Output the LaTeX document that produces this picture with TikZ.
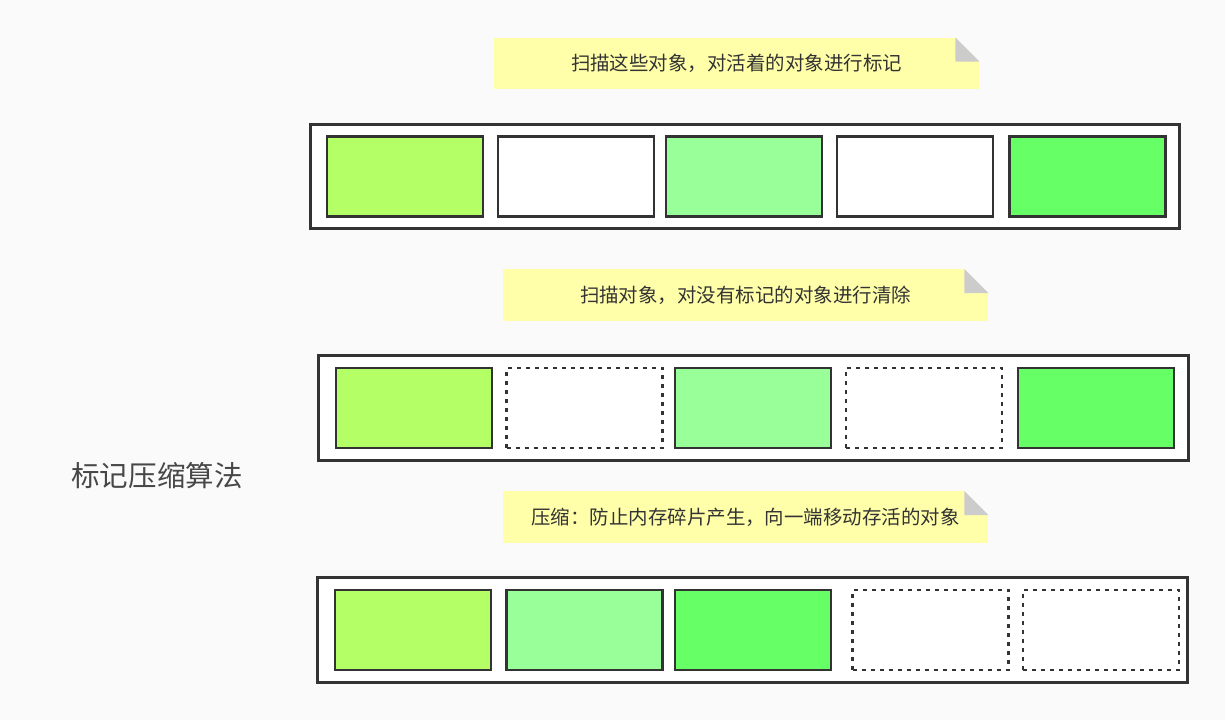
\documentclass[tikz,border=0pt]{standalone}
\usepackage{fontspec}
\newfontfamily\cjk{Noto Sans CJK SC}
\usetikzlibrary{positioning}
\definecolor{bgc}{HTML}{FAFAFA}
\definecolor{linec}{HTML}{333333}
\definecolor{notec}{HTML}{FFFFAA}
\definecolor{foldc}{HTML}{CCCCCC}
\definecolor{limec}{HTML}{B5FF66}
\definecolor{paleg}{HTML}{99FF99}
\definecolor{brightg}{HTML}{66FF66}
\tikzset{
    heap/.style = {rectangle, draw=linec, line width=2.2pt, fill=white, minimum width=652pt, minimum height=78.5pt, inner sep=0},
    cell/.style = {rectangle, draw=linec, line width=2.2pt, minimum width=117pt, minimum height=60pt, inner sep=0},
    cellc/.style = {cell, fill=limec},
    cellp/.style = {cell, fill=paleg},
    cellg/.style = {cell, fill=brightg},
    cellw/.style = {cell, fill=white},
    celld/.style = {cell, fill=white, line width=2pt, dash pattern=on 3pt off 3.75pt},
    note/.style = {rectangle, fill=notec, minimum width=364pt, minimum height=38.5pt, inner sep=0, font=\cjk\fontsize{14.6}{17}\selectfont, text=linec},
    title/.style = {font=\cjk\fontsize{21.4}{25}\selectfont, text=linec!90!white}
}

\newcommand{\fold}[1]{%
  \fill[bgc] (#1.north east) -- ++(-24,0) -- ++(24,24) -- cycle;
  \fill[foldc] (#1.north east) ++(-24,0) -- ++(0,24) -- ++(24,0) -- cycle;
}

\begin{document}
\begin{tikzpicture}[x=0.75pt,y=-0.75pt]
\fill[bgc] (0,0) rectangle (1225,720);
\useasboundingbox (0,0) rectangle (1225,720);

\node[title] at (157,476) (t) {标记压缩算法};

% mark
\node[note] at (736.5,63.5) (n1) {扫描这些对象，对活着的对象进行标记};
\fold{n1}
\node[heap] at (745,176.5) (h1) {};
\node[cellc] at ( 405.0,176.5) (a1) {};
\node[cellw] at ( 576.0,176.5) (a2) {};
\node[cellp] at ( 744.0,176.5) (a3) {};
\node[cellw] at ( 915.0,176.5) (a4) {};
\node[cellg] at (1087.5,176.5) (a5) {};

% sweep
\node[note] at (745.5,295) (n2) {扫描对象，对没有标记的对象进行清除};
\fold{n2}
\node[heap] at (753.5,408) (h2) {};
\node[cellc] at ( 414.0,408) (b1) {};
\node[celld] at ( 584.5,408) (b2) {};
\node[cellp] at ( 753.0,408) (b3) {};
\node[celld] at ( 924.0,408) (b4) {};
\node[cellg] at (1096.0,408) (b5) {};

% compact
\node[note] at (745.5,517) (n3) {压缩：防止内存碎片产生，向一端移动存活的对象};
\fold{n3}
\node[heap] at (752.5,630) (h3) {};
\node[cellc] at ( 413.0,630) (c1) {};
\node[cellp] at ( 584.5,630) (c2) {};
\node[cellg] at ( 753.0,630) (c3) {};
\node[celld] at ( 930.5,630) (c4) {};
\node[celld] at (1101.0,630) (c5) {};

\end{tikzpicture}
\end{document}
